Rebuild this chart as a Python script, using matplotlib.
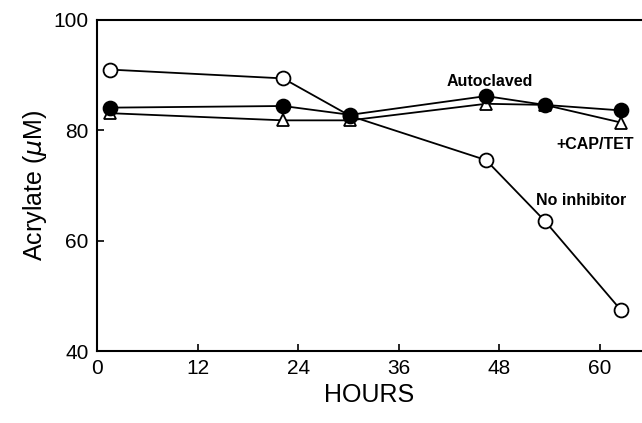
import matplotlib
matplotlib.use("Agg")
import matplotlib.pyplot as plt

plt.rcParams['font.family'] = ['Liberation Sans', 'DejaVu Sans']

# sampling times (hours)
hours = [1.5, 22.2, 30.2, 46.4, 53.4, 62.5]

# acrylate concentration (uM)
no_inhibitor = [91.0, 89.4, 82.6, 74.6, 63.6, 47.4]
autoclaved = [84.1, 84.4, 82.8, 86.2, 84.6, 83.6]
cap_tet = [83.1, 81.8, 81.8, 84.8, 84.6, 81.4]

fig = plt.figure(figsize=(6.42, 4.23), dpi=100)
ax = fig.add_axes([0.151, 0.170, 0.849, 0.783])

lw = 1.3
ax.plot(hours, cap_tet, color='black', lw=lw, marker='^', ms=8.5,
        mfc='white', mec='black', mew=1.3, zorder=3)
ax.plot(hours, no_inhibitor, color='black', lw=lw, marker='o', ms=10,
        mfc='white', mec='black', mew=1.3, zorder=4)
ax.plot(hours, autoclaved, color='black', lw=lw, marker='o', ms=10,
        mfc='black', mec='black', mew=1.3, zorder=5)

ax.text(46.8, 88.8, 'Autoclaved', fontsize=11.5, fontweight='bold', ha='center', va='center')
ax.text(54.8, 77.4, '+CAP/TET', fontsize=11.5, fontweight='bold', ha='left', va='center')
ax.text(52.3, 67.2, 'No inhibitor', fontsize=11.5, fontweight='bold', ha='left', va='center')

ax.set_xlim(0, 65)
ax.set_ylim(40, 100)
ax.set_xticks([0, 12, 24, 36, 48, 60])
ax.set_yticks([40, 60, 80, 100])
ax.tick_params(direction='in', length=5, width=1.2, labelsize=15, pad=6)

ax.spines['right'].set_visible(False)
for s in ['left', 'top', 'bottom']:
    ax.spines[s].set_linewidth(1.5)

ax.set_xlabel('HOURS', fontsize=18, labelpad=3)
ax.set_ylabel('Acrylate ($\\mu$M)', fontsize=18, labelpad=3)

fig.savefig('out.png', dpi=100)
